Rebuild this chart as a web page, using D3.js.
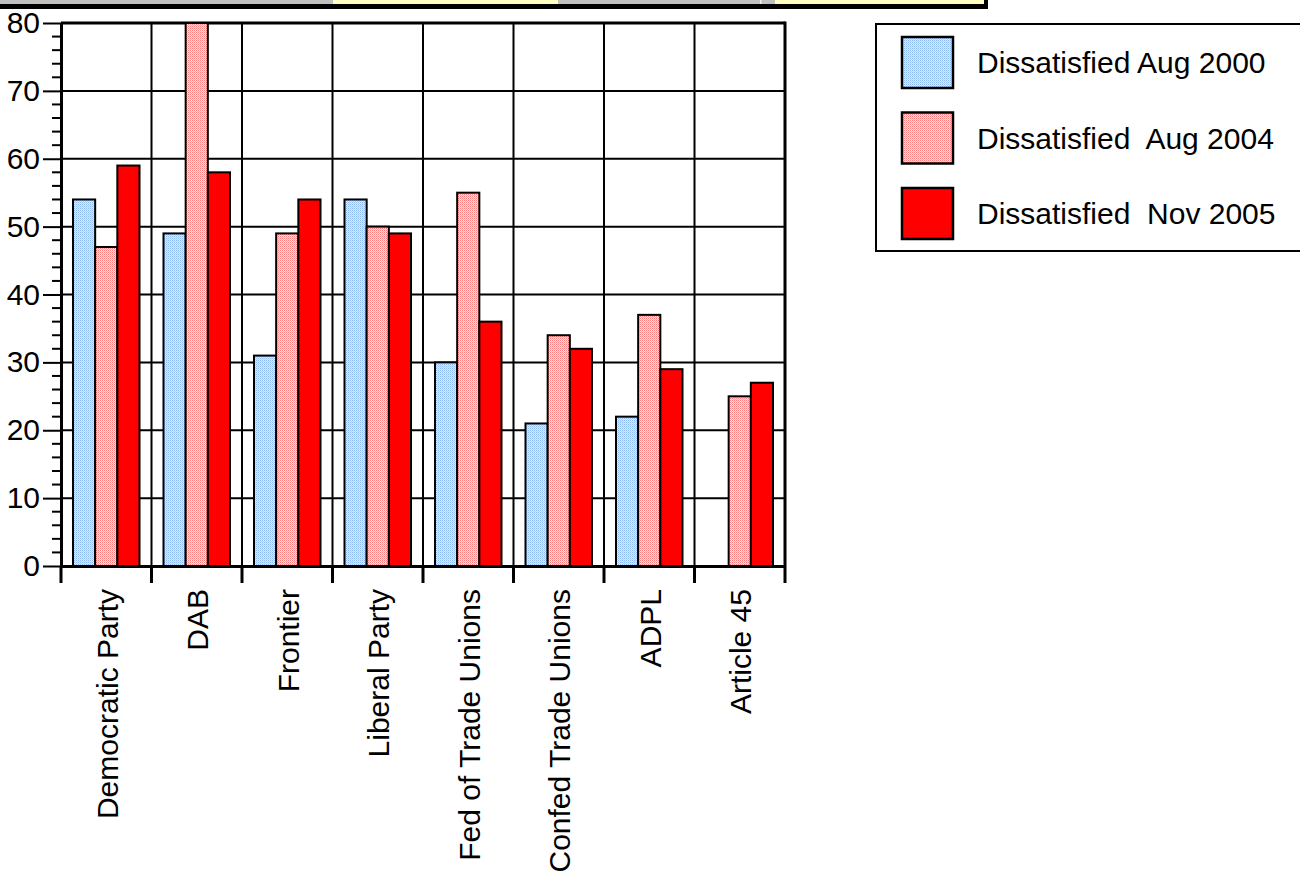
<!DOCTYPE html>
<html><head><meta charset="utf-8">
<script src="https://cdn.jsdelivr.net/npm/d3@7"></script>
<style>
html,body{margin:0;padding:0;background:#fff;}
svg{display:block;font-family:Arial,"Liberation Sans",sans-serif;}
.pre{white-space:pre;}
</style></head>
<body>
<svg id="chart" width="1300" height="874"></svg>
<script>
const categories = ["Democratic Party","DAB","Frontier","Liberal Party","Fed of Trade Unions","Confed Trade Unions","ADPL","Article 45"];
const seriesNames = ["Dissatisfied Aug 2000","Dissatisfied  Aug 2004","Dissatisfied  Nov 2005"];
const aug2000 = [54, 49, 31, 54, 30, 21, 22, null];
const aug2004 = [47, 80, 49, 50, 55, 34, 37, 25];
const nov2005 = [59, 58, 54, 49, 36, 32, 29, 27];
const yTicks = [0,10,20,30,40,50,60,70,80];

(function(){
const series = [aug2000, aug2004, nov2005];
const fills = ["url(#patBlue)","url(#patPink)","#ff0000"];
const FS = 30;

const svg = d3.select("#chart");
const defs = svg.append("defs");
// patterns
const pb = defs.append("pattern").attr("id","patBlue").attr("width",2).attr("height",2).attr("patternUnits","userSpaceOnUse");
pb.append("rect").attr("width",2).attr("height",2).attr("fill","#dceaff");
pb.append("rect").attr("x",0).attr("y",0).attr("width",1).attr("height",1).attr("fill","#8dbaf2");
pb.append("rect").attr("x",1).attr("y",1).attr("width",1).attr("height",1).attr("fill","#b4d2f8");
const pp = defs.append("pattern").attr("id","patPink").attr("width",2).attr("height",2).attr("patternUnits","userSpaceOnUse");
pp.append("rect").attr("width",2).attr("height",2).attr("fill","#ffe4e4");
pp.append("rect").attr("x",0).attr("y",0).attr("width",1).attr("height",1).attr("fill","#ff7a7a");
pp.append("rect").attr("x",1).attr("y",1).attr("width",1).attr("height",1).attr("fill","#ffb0b0");

// top strip
const strip = svg.append("g");
strip.append("rect").attr("x",0).attr("y",0).attr("width",333).attr("height",4).attr("fill","#c0c0c0");
strip.append("rect").attr("x",333).attr("y",0).attr("width",225).attr("height",4).attr("fill","#ffffc0");
strip.append("rect").attr("x",558).attr("y",0).attr("width",217).attr("height",4).attr("fill","#c0c0c0");
strip.append("rect").attr("x",760).attr("y",0).attr("width",1.5).attr("height",4).attr("fill","#f0f0f0");
strip.append("rect").attr("x",775).attr("y",0).attr("width",209).attr("height",4).attr("fill","#ffffc0");
strip.append("rect").attr("x",984).attr("y",0).attr("width",4).attr("height",9).attr("fill","#000");
strip.append("rect").attr("x",0).attr("y",4).attr("width",988).attr("height",5).attr("fill","#000");

const pL = 61, pR = 785, pT = 23, pB = 566;
const x = d3.scaleBand().domain(categories).range([pL, pR]).paddingInner(0).paddingOuter(0);
const bw = x.bandwidth();
const xs = d3.scaleBand().domain([0,1,2]).range([12, bw-12]).padding(0);
const y = d3.scaleLinear().domain([0,80]).range([pB, pT]);

// gridlines
const grid = svg.append("g");
grid.selectAll("line.h").data(yTicks.filter(d=>d>0)).join("line")
  .attr("x1",pL).attr("x2",pR).attr("y1",d=>y(d)).attr("y2",d=>y(d))
  .attr("stroke","#000").attr("stroke-width",d=>d===80?3:2);
grid.selectAll("line.v").data(categories.slice(1)).join("line")
  .attr("x1",d=>x(d)).attr("x2",d=>x(d)).attr("y1",pT).attr("y2",pB)
  .attr("stroke","#000").attr("stroke-width",2);
grid.append("line").attr("x1",pR).attr("x2",pR).attr("y1",pT-1.5).attr("y2",pB)
  .attr("stroke","#000").attr("stroke-width",3);

// bars
const gb = svg.append("g");
categories.forEach((c,i)=>{
  series.forEach((s,j)=>{
    const v = s[i];
    if (v === null || v === undefined) return;
    gb.append("rect")
      .attr("x", x(c)+xs(j)).attr("width", xs.bandwidth())
      .attr("y", y(v)).attr("height", y(0)-y(v))
      .attr("fill", fills[j]).attr("stroke","#000").attr("stroke-width",2);
  });
});

// y axis minor ticks
const minor = d3.range(0,81,2).filter(d=>d%10!==0);
svg.append("g").selectAll("line").data(minor).join("line")
  .attr("x1",52).attr("x2",pL).attr("y1",d=>y(d)).attr("y2",d=>y(d))
  .attr("stroke","#000").attr("stroke-width",2);

const yAxis = d3.axisLeft(y).tickValues(yTicks).tickSize(18).tickPadding(3).tickSizeOuter(0);
const gy = svg.append("g").attr("transform",`translate(${pL},0)`).call(yAxis);
gy.select(".domain").attr("stroke","#000").attr("stroke-width",3);
gy.selectAll(".tick line").attr("stroke","#000").attr("stroke-width",2);
gy.selectAll(".tick text").attr("font-size",FS).attr("font-family","Arial, 'Liberation Sans', sans-serif").attr("fill","#000");

// x axis
const xAxis = d3.axisBottom(x).tickValues([]).tickSizeOuter(0);
const gx = svg.append("g").attr("transform",`translate(0,${pB})`).call(xAxis);
gx.select(".domain").attr("stroke","#000").attr("stroke-width",3);
const bounds = categories.map(c=>x(c)).concat([pR]);
gx.selectAll("line.bt").data(bounds).join("line")
  .attr("x1",d=>d).attr("x2",d=>d).attr("y1",0).attr("y2",17)
  .attr("stroke","#000").attr("stroke-width",3);
gx.selectAll("text.cl").data(categories).join("text")
  .attr("transform",d=>`translate(${x(d)+bw/2+1},${23}) rotate(-90)`)
  .attr("text-anchor","end").attr("dy","0.35em")
  .attr("font-size",FS).attr("font-family","Arial, 'Liberation Sans', sans-serif").attr("fill","#000").text(d=>d);

// legend
const lg = svg.append("g");
lg.append("rect").attr("x",876).attr("y",24).attr("width",440).attr("height",227)
  .attr("fill","#fff").attr("stroke","#000").attr("stroke-width",2);
seriesNames.forEach((n,j)=>{
  const cy = 62.5 + j*75.5;
  lg.append("rect").attr("x",902).attr("y",cy-25.5).attr("width",51).attr("height",51)
    .attr("fill",fills[j]).attr("stroke","#000").attr("stroke-width",2.5);
  lg.append("text").attr("class","pre").attr("x",977).attr("y",cy).attr("dy","0.35em")
    .attr("font-size",FS).attr("fill","#000").text(n);
});
})();
</script>
</body></html>
